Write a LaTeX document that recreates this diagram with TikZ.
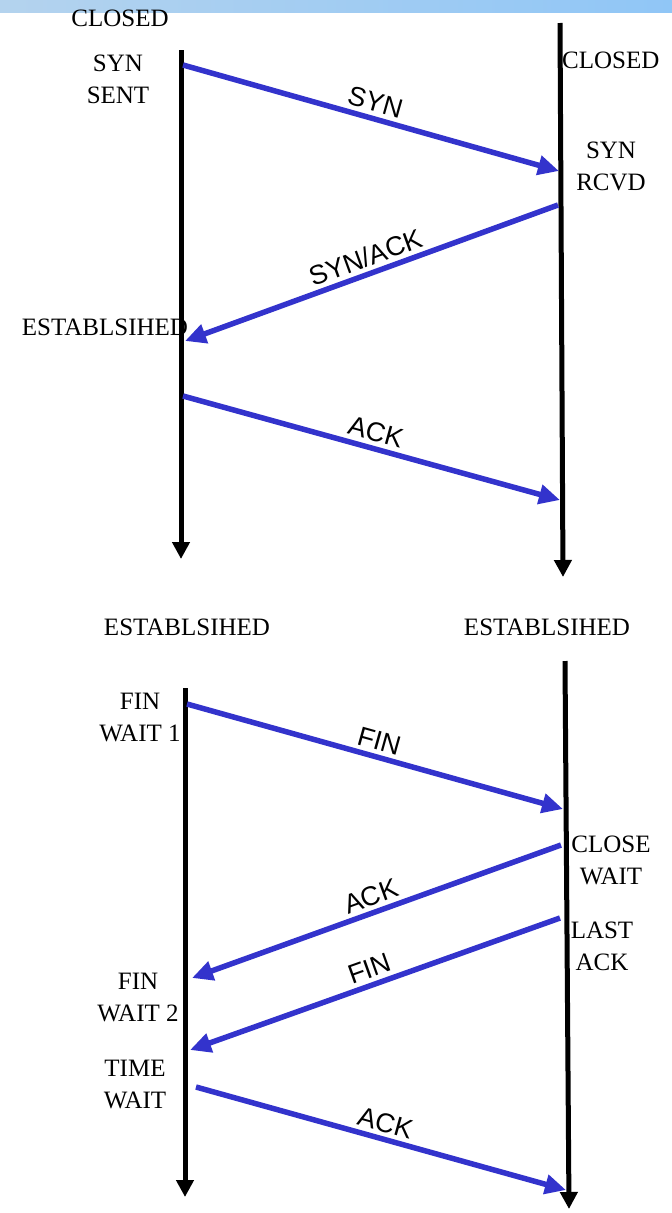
\documentclass[tikz,border=0pt]{standalone}
\usepackage{fontspec}
\setmainfont{Liberation Serif}
\newfontfamily\msgfont{Liberation Sans}
\usetikzlibrary{arrows.meta}
\definecolor{Ink}{HTML}{000000}
\definecolor{MsgBlue}{HTML}{3333CC}
\definecolor{BarLeft}{HTML}{B4D3EE}
\definecolor{BarRight}{HTML}{90C6F6}
\tikzset{
  state label/.style={font=\fontsize{25}{32}\selectfont, align=center, inner sep=0pt},
  msg label/.style={font=\msgfont\fontsize{27}{30}\selectfont, sloped, above=4pt, inner sep=0pt},
  timeline/.style={-{Triangle[length=17pt,width=17pt]}, draw=Ink, line width=5pt},
  msg flow/.style={-{Triangle[length=21pt,width=19pt]}, draw=MsgBlue, line width=5.5pt},
}

\begin{document}
\begin{tikzpicture}[x=1pt, y=-1pt]
  \useasboundingbox (0,0) rectangle (672,1213);

  % Header band of the slide.
  \shade[left color=BarLeft, right color=BarRight] (0,0) rectangle (672,12);

  % Connection setup: the two host timelines.
  \coordinate (setup client top) at (181,50);
  \coordinate (setup client end) at (181,559);
  \coordinate (setup server top) at (560,23);
  \coordinate (setup server end) at (563,577);

  % Connection teardown: the two host timelines.
  \coordinate (close client top) at (185,688);
  \coordinate (close client end) at (185,1197);
  \coordinate (close server top) at (565,661);
  \coordinate (close server end) at (569,1209);

  % Segment end points on the timelines.
  \coordinate (syn a) at (183,65);      \coordinate (syn b) at (559,171);
  \coordinate (synack a) at (558,205);  \coordinate (synack b) at (185,341);
  \coordinate (ack a) at (183,396);     \coordinate (ack b) at (560,500);
  \coordinate (fin a) at (187,704);     \coordinate (fin b) at (563,809);
  \coordinate (finack a) at (561,845);  \coordinate (finack b) at (192,978);
  \coordinate (lastfin a) at (560,918); \coordinate (lastfin b) at (190,1050);
  \coordinate (lastack a) at (196,1087);\coordinate (lastack b) at (566,1190);

  % State labels beside the timelines.
  \node[state label] (closed client) at (120,18) {CLOSED};
  \node[state label] (syn sent) at (118,79) {SYN\\SENT};
  \node[state label] (est client) at (105,327) {ESTABLSIHED};
  \node[state label, anchor=west] (closed server) at (562,60) {CLOSED};
  \node[state label] (syn rcvd) at (611,166) {SYN\\RCVD};

  \node[state label] (est left) at (187,627) {ESTABLSIHED};
  \node[state label] (est right) at (547,627) {ESTABLSIHED};
  \node[state label] (fin wait one) at (140,717) {FIN\\WAIT 1};
  \node[state label] (close wait) at (611,860) {CLOSE\\WAIT};
  \node[state label] (last ack) at (602,946) {LAST\\ACK};
  \node[state label] (fin wait two) at (138,997) {FIN\\WAIT 2};
  \node[state label] (time wait) at (135,1084) {TIME\\WAIT};

  \draw[timeline] (setup client top) -- (setup client end);
  \draw[timeline] (setup server top) -- (setup server end);
  \draw[timeline] (close client top) -- (close client end);
  \draw[timeline] (close server top) -- (close server end);

  % Segments exchanged between the hosts.
  \draw[msg flow] (syn a) -- node[msg label] {SYN} (syn b);
  \draw[msg flow] (synack a) -- node[msg label] {SYN/ACK} (synack b);
  \draw[msg flow] (ack a) -- node[msg label] {ACK} (ack b);
  \draw[msg flow] (fin a) -- node[msg label] {FIN} (fin b);
  \draw[msg flow] (finack a) -- node[msg label] {ACK} (finack b);
  \draw[msg flow] (lastfin a) -- node[msg label] {FIN} (lastfin b);
  \draw[msg flow] (lastack a) -- node[msg label] {ACK} (lastack b);
\end{tikzpicture}
\end{document}
